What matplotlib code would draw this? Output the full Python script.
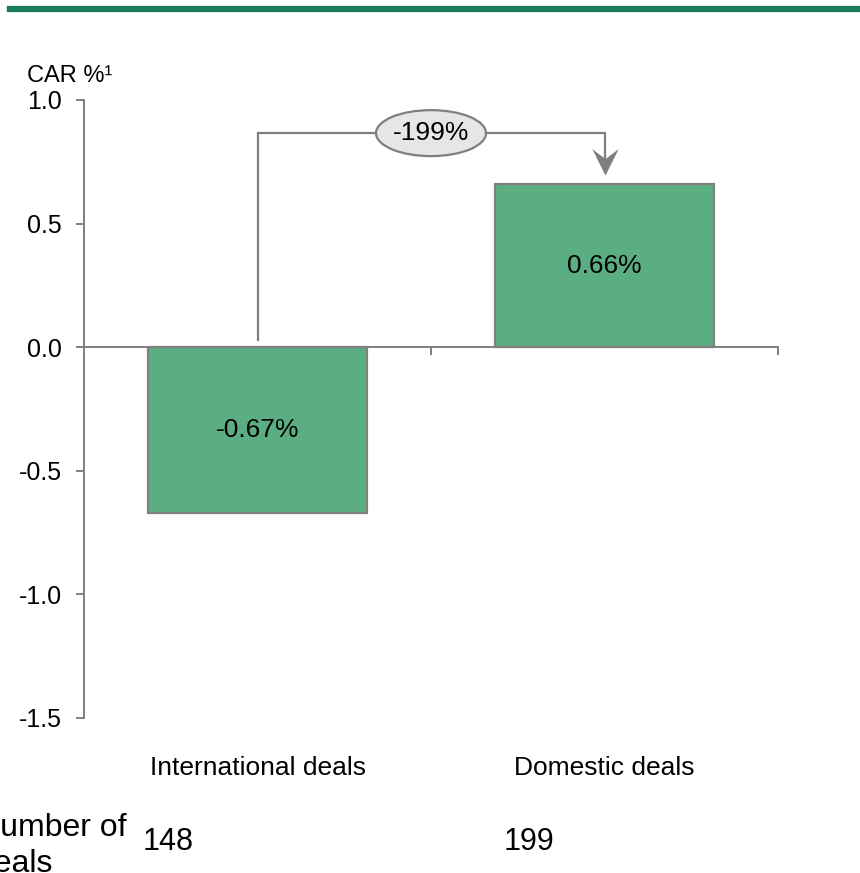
import matplotlib.pyplot as plt
from matplotlib.patches import Ellipse
import matplotlib.transforms as mtransforms

plt.rcParams["font.family"] = ["Liberation Sans", "DejaVu Sans"]

categories = ["International deals", "Domestic deals"]
car = [-0.67, 0.66]
car_labels = ["-0.67%", "0.66%"]
deal_counts = [148, 199]
change_label = "-199%"
yticks = [-1.5, -1.0, -0.5, 0.0, 0.5, 1.0]

bar_green = "#5BAE82"
edge_grey = "#808080"
line_grey = "#7F7F7F"

fig = plt.figure(figsize=(8.6, 8.73), dpi=100)
ax = fig.add_axes([84 / 860, 1 - 718 / 873, 694 / 860, 618 / 873])

x_pos = list(range(len(categories)))
ax.bar(x_pos, car, width=0.63, color=bar_green, edgecolor=edge_grey, linewidth=1.6, zorder=3)
for x, v, lab in zip(x_pos, car, car_labels):
    ax.text(x, v / 2, lab, ha="center", va="center", fontsize=19, zorder=4)

ax.set_xlim(-0.5, len(categories) - 0.5)
ax.set_ylim(-1.5, 1.0)

# y-axis on the left, x-axis running through zero
for s in ["top", "right"]:
    ax.spines[s].set_visible(False)
ax.spines["bottom"].set_position(("data", 0))
for s in ["left", "bottom"]:
    ax.spines[s].set_color(line_grey)
    ax.spines[s].set_linewidth(1.4)

ax.set_yticks(yticks)
ax.set_yticklabels([f"{t:.1f}" for t in yticks])
ax.tick_params(axis="y", direction="out", length=6, width=1.4, color=line_grey,
               labelsize=18, pad=10)
ax.set_xticks([x + 0.5 for x in x_pos])
ax.set_xticklabels([])
ax.tick_params(axis="x", direction="out", length=6, width=1.4, color=line_grey)

# category names and deal counts under the plot
trans = mtransforms.blended_transform_factory(ax.transData, fig.transFigure)
count_x = [-0.33, 0.71]
for x, name in zip(x_pos, categories):
    ax.text(x, 1 - 768 / 873, name, transform=trans, ha="center", va="center", fontsize=19)
for cx, n in zip(count_x, deal_counts):
    ax.text(cx, 1 - 842 / 873, str(n), transform=trans, ha="left", va="center", fontsize=22)
fig.text(-23 / 860, 1 - 846 / 873, "Number of\ndeals", ha="left", va="center", fontsize=23,
         linespacing=1.25)

fig.text(27 / 860, 1 - 76 / 873, "CAR %\u00b9", ha="left", va="center", fontsize=17)

# difference bracket from the first bar to the second
level = 0.866
tip = car[1] + 0.035
ax.plot([x_pos[0], x_pos[0], x_pos[1], x_pos[1]], [0.03, level, level, tip + 0.05],
        color=line_grey, lw=1.6, zorder=2, solid_joinstyle="miter")
# notched arrow head, tip at the marker origin
head = [(0, 0), (-0.5, 1), (0, 0.62), (0.5, 1), (0, 0)]
ax.plot(x_pos[1], tip, marker=head, markersize=38, color=line_grey,
        markeredgewidth=0, zorder=2)
mid = (x_pos[0] + x_pos[1]) / 2
ax.add_patch(Ellipse((mid, level), 0.317, 0.186, facecolor="#E6E6E6",
                     edgecolor=line_grey, lw=1.6, zorder=5))
ax.text(mid, level, change_label, ha="center", va="center", fontsize=19, zorder=6)

# green rule across the top
fig.add_artist(plt.Line2D([10 / 860, 1], [1 - 9 / 873] * 2, color="#1B7A57", lw=4.5))

fig.savefig("out.png", dpi=100)
